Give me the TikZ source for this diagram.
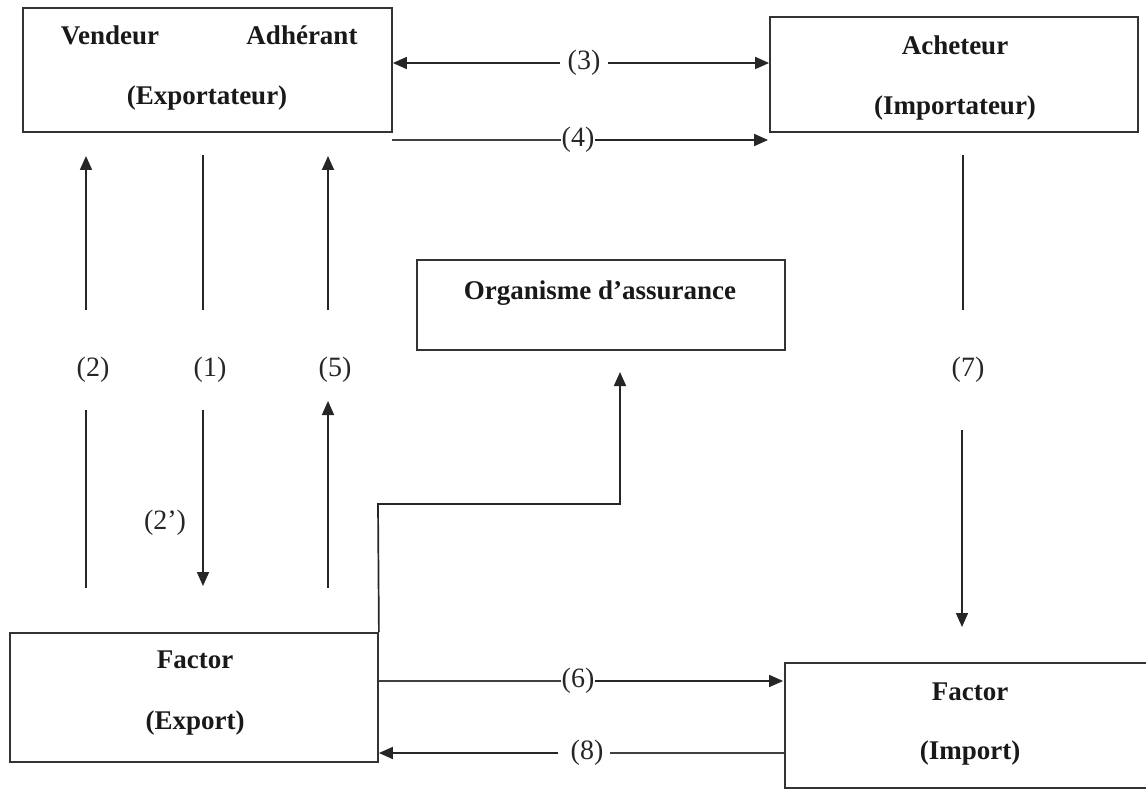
\documentclass[tikz,border=0pt]{standalone}
\usepackage{fontspec}
\setmainfont{Liberation Serif}
\usetikzlibrary{arrows.meta,calc}

\tikzset{
  box/.style={draw=black!80, line width=1.8pt, rectangle, inner sep=0pt},
  btxt/.style={font=\fontsize{27}{30}\selectfont\bfseries, inner sep=0pt, text=black!90},
  lbl/.style={font=\fontsize{28}{31}\selectfont, inner sep=0pt, text=black!85},
  link/.style={draw=black!85, line width=1.7pt},
  thinlink/.style={draw=black!75, line width=1.1pt},
  arr/.style={link, -{Triangle[length=14pt,width=12pt]}},
}

\begin{document}
\begin{tikzpicture}[x=1pt,y=-1pt]
\clip (0,0) rectangle (1146,789);
\useasboundingbox (0,0) rectangle (1146,789);

% boxes
\node[box, minimum width=369pt, minimum height=124pt] (vend) at (207.5,70) {};
\node[box, minimum width=368pt, minimum height=115pt] (ach) at (954,74.5) {};
\node[box, minimum width=368pt, minimum height=90pt] (org) at (601,305) {};
\node[box, minimum width=368pt, minimum height=129pt] (fexp) at (194,697.5) {};
\node[box, minimum width=375pt, minimum height=125pt] (fimp) at (972.5,725.5) {};

% box texts
\node[btxt] (tvend) at (110,35) {Vendeur};
\node[btxt] (tadh) at (302,35) {Adhérant};
\node[btxt] (texp) at (207,98) {(Exportateur)};
\node[btxt] (tach) at (955,45) {Acheteur};
\node[btxt] (timp) at (955,108) {(Importateur)};
\node[btxt] (torg) at (600,293) {Organisme d’assurance};
\node[btxt] (tfe1) at (195,660) {Factor};
\node[btxt] (tfe2) at (195,723) {(Export)};
\node[btxt] (tfi1) at (970,692) {Factor};
\node[btxt] (tfi2) at (970,753) {(Import)};

% flow labels
\node[lbl] (l3) at (584,63) {(3)};
\node[lbl] (l4) at (578,140) {(4)};
\node[lbl] (l2) at (93,370) {(2)};
\node[lbl] (l1) at (210,370) {(1)};
\node[lbl] (l5) at (335,370) {(5)};
\node[lbl] (l7) at (968,370) {(7)};
\node[lbl] (l2p) at (165,523) {(2’)};
\node[lbl] (l6) at (578,681) {(6)};
\node[lbl] (l8) at (587,753) {(8)};

% free ends of the broken connectors
\coordinate (a3) at (560,63);
\coordinate (b3) at (608,63);
\coordinate (a4) at (392,140);
\coordinate (u2a) at (86,310);  \coordinate (u2b) at (86,156);
\coordinate (d2a) at (86,410);  \coordinate (d2b) at (86,588);
\coordinate (u1a) at (203,155); \coordinate (u1b) at (203,310);
\coordinate (d1a) at (203,410); \coordinate (d1b) at (203,586);
\coordinate (u5a) at (328,310); \coordinate (u5b) at (328,156);
\coordinate (d5a) at (328,588); \coordinate (d5b) at (328,401);
\coordinate (u7a) at (963,155); \coordinate (u7b) at (963,310);
\coordinate (d7a) at (962,430); \coordinate (d7b) at (962,627);
\coordinate (bend) at (378,504);
\coordinate (ins) at (620,372);
\coordinate (a8) at (610,753);
\coordinate (b8) at (558,753);

% (3) two-way exchange
\draw[arr] (a3) -- (vend.east |- a3);
\draw[arr] (b3) -- (ach.west |- b3);
% (4)
\draw[thinlink] (a4) -- (l4.west);
\draw[arr] (l4.east) -- ([xshift=-1pt]ach.west |- l4);
% (2), (1), (5)
\draw[arr] (u2a) -- (u2b);
\draw[link] (d2a) -- (d2b);
\draw[link] (u1a) -- (u1b);
\draw[arr] (d1a) -- (d1b);
\draw[arr] (u5a) -- (u5b);
\draw[arr] (d5a) -- (d5b);
% (7)
\draw[link] (u7a) -- (u7b);
\draw[arr] (d7a) -- (d7b);
% Factor export to the insurer
\draw[arr] (fexp.north east) -- (bend) -| (ins);
% (6)
\draw[thinlink] (fexp.east |- l6) -- (l6.west);
\draw[arr] (l6.east) -- ([xshift=-1pt]fimp.west |- l6);
% (8)
\draw[thinlink] (fimp.west |- a8) -- (a8);
\draw[arr] (b8) -- (fexp.east |- b8);
\end{tikzpicture}
\end{document}
